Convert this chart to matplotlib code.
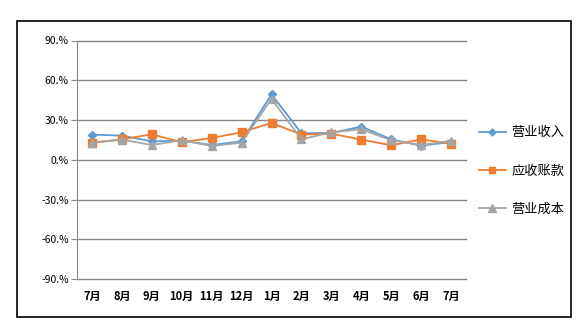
import matplotlib.pyplot as plt
from matplotlib.patches import Rectangle
from matplotlib.ticker import FuncFormatter

plt.rcParams['font.family'] = ['Noto Sans CJK SC', 'DejaVu Sans']

# 月份
months = ['7月', '8月', '9月', '10月', '11月', '12月', '1月', '2月', '3月', '4月', '5月', '6月', '7月']

# 增长率 (%)
revenue = [19.0, 18.2, 13.9, 14.4, 11.1, 13.9, 49.3, 20.0, 20.2, 25.0, 15.4, 10.6, 13.4]
receivable = [12.9, 15.4, 19.2, 13.2, 16.4, 20.7, 27.8, 19.0, 19.7, 15.2, 10.9, 15.4, 12.1]
cost = [12.7, 15.2, 11.1, 14.7, 10.4, 12.9, 46.0, 15.4, 20.7, 23.0, 14.7, 11.1, 14.2]

yticks = [-90, -60, -30, 0, 30, 60, 90]

W, H = 587, 328
fig = plt.figure(figsize=(W / 100, H / 100), dpi=100)

# 外框
fig.patches.append(Rectangle((17 / W, 1 - 316.5 / H), (571 - 17) / W, (316.5 - 20.5) / H,
                             transform=fig.transFigure, fill=False, edgecolor='black', linewidth=1.2))

ax = fig.add_axes([77 / W, 1 - 279 / H, (466 - 77) / W, (279 - 40.5) / H])

x = list(range(len(months)))
ax.plot(x, revenue, color='#5B9BD5', marker='D', markersize=4.2, linewidth=1.3, label='营业收入')
ax.plot(x, receivable, color='#ED7D31', marker='s', markersize=5.5, linewidth=1.3, label='应收账款')
ax.plot(x, cost, color='#A5A5A5', marker='^', markersize=6, linewidth=1.3, label='营业成本')

ax.set_xlim(-0.5, len(months) - 0.5)
ax.set_ylim(-90, 90)
ax.set_yticks(yticks)
ax.yaxis.set_major_formatter(FuncFormatter(lambda v, p: f'{v:.0f}.%'))
ax.grid(axis='y', color='#868686', linewidth=1)
for gl in ax.get_ygridlines():
    gl.set_clip_on(False)
ax.set_axisbelow(True)

ax.set_xticks(x)
ax.set_xticklabels(months, fontweight='bold', fontsize=8)
ax.tick_params(axis='x', length=0, pad=8)
ax.tick_params(axis='y', length=4, color='#868686', labelsize=7.5, pad=2)

for s in ['top', 'right', 'bottom']:
    ax.spines[s].set_visible(False)
ax.spines['left'].set_color('#868686')

fig.legend(loc='center left', bbox_to_anchor=(472 / W, 1 - 171 / H), frameon=False,
           fontsize=9.5, handlelength=2.1, handletextpad=0.4, labelspacing=1.9, borderpad=0,
           markerscale=0.85)

fig.savefig('out.png', dpi=100)
